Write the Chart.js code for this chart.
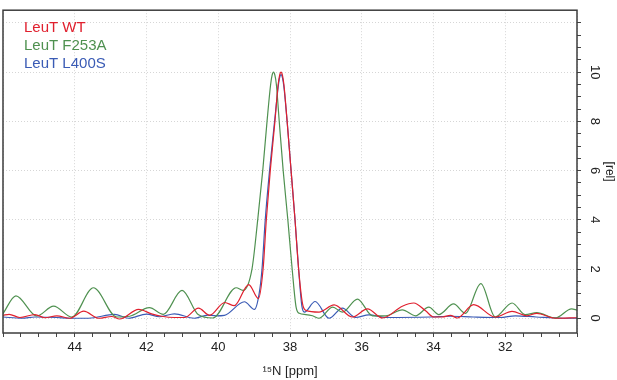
<!DOCTYPE html>
<html lang="en">
<head>
<meta charset="UTF-8">
<title>LeuT 15N spectra</title>
<style>
    body { margin: 0; background: #fff; }
    #wrap { width: 617px; height: 380px; }
</style>
<script src="https://cdn.jsdelivr.net/npm/chart.js"></script>
</head>
<body>
<div id="wrap"><canvas id="nmrChart" width="617" height="380"></canvas></div>
<script>
// series: chemical shift (ppm) and relative intensity
const wtPpm = [46.0, 45.83, 45.53, 45.11, 44.83, 44.50, 44.14, 43.75, 43.33, 42.97, 42.75, 42.22, 41.86, 41.58, 41.22, 40.94, 40.55, 40.24, 39.82, 39.55, 39.15, 38.88, 38.75, 38.66, 38.55, 38.42, 38.33, 38.29, 38.25, 38.21, 38.17, 38.08, 37.97, 37.86, 37.76, 37.65, 37.56, 37.19, 36.77, 36.26, 35.84, 35.42, 34.87, 34.55, 34.22, 33.99, 33.75, 33.53, 33.34, 32.88, 32.28, 31.81, 31.40, 31.12, 30.61, 30.0];
const wtRel = [0.12, 0.16, 0.03, 0.15, 0.02, 0.10, 0.0, 0.29, 0.0, 0.07, -0.03, 0.36, 0.18, 0.08, 0.03, 0.03, 0.41, 0.12, 0.64, 0.51, 1.37, 0.8, 2.0, 4.0, 6.0, 8.0, 9.5, 9.87, 10.0, 9.87, 9.5, 8.0, 6.0, 4.0, 2.0, 0.58, 0.32, 0.25, 0.54, 0.05, 0.38, 0.01, 0.49, 0.62, 0.3, 0.05, 0.05, 0.12, 0.01, 0.55, 0.05, 0.28, 0.1, 0.2, 0.0, 0.02];

const f253aPpm = [46.0, 45.64, 45.06, 44.59, 44.08, 43.48, 42.83, 42.47, 41.92, 41.53, 41.01, 40.56, 40.15, 39.50, 39.31, 39.06, 38.90, 38.76, 38.64, 38.54, 38.50, 38.46, 38.42, 38.38, 38.30, 38.19, 38.06, 37.94, 37.83, 37.74, 37.56, 37.37, 37.19, 36.81, 36.54, 36.12, 35.70, 35.33, 34.87, 34.50, 34.13, 33.85, 33.44, 33.11, 32.68, 32.28, 31.81, 31.44, 31.12, 30.61, 30.15, 30.0];
const f253aRel = [0.19, 0.91, 0.09, 0.49, 0.05, 1.24, 0.05, 0.08, 0.43, 0.16, 1.13, 0.15, 0.01, 1.24, 1.13, 2.0, 4.0, 6.0, 8.0, 9.5, 9.87, 10.0, 9.87, 9.5, 8.0, 6.0, 4.0, 2.0, 0.45, 0.2, 0.15, 0.1, 0.0, 0.45, 0.25, 0.78, 0.1, 0.1, 0.34, 0.1, 0.45, 0.15, 0.58, 0.2, 1.41, 0.05, 0.62, 0.15, 0.23, 0.01, 0.38, 0.33];

const l400sPpm = [46.0, 45.47, 45.11, 44.50, 44.14, 43.61, 42.89, 42.50, 42.0, 41.64, 41.22, 40.67, 40.29, 40.06, 39.83, 39.27, 38.99, 38.86, 38.78, 38.69, 38.57, 38.43, 38.33, 38.29, 38.25, 38.21, 38.17, 38.08, 37.97, 37.86, 37.76, 37.67, 37.60, 37.30, 36.91, 36.54, 36.17, 35.80, 35.33, 34.08, 33.53, 32.89, 32.14, 31.72, 31.14, 30.39, 30.0];
const l400sRel = [0.05, 0.0, 0.05, 0.03, 0.0, 0.0, 0.16, 0.0, 0.17, 0.06, 0.18, 0.0, 0.13, 0.1, 0.12, 0.67, 0.36, 1.0, 2.0, 4.0, 6.0, 8.0, 9.4, 9.77, 9.9, 9.77, 9.4, 8.0, 6.0, 4.0, 2.0, 0.5, 0.25, 0.68, 0.0, 0.41, 0.03, 0.14, 0.03, 0.05, 0.08, 0.05, 0.03, 0.1, 0.05, 0.0, 0.0];

const xTickLabels = [44, 42, 40, 38, 36, 34, 32];
const yTickLabels = [0, 2, 4, 6, 8, 10];

function toPoints(ppm, rel) {
    return ppm.map((p, i) => ({ x: p, y: rel[i] }));
}

function halfSteps(scale) {
    scale.ticks = scale.ticks.filter(t => Math.abs(t.value * 2 - Math.round(t.value * 2)) < 1e-6);
}

function majorGrid(ctx) {
    return ctx.tick && Math.abs(ctx.tick.value % 2) < 1e-6 ? '#d6d6d6' : 'rgba(0,0,0,0)';
}

// frame, rotated y labels and the text legend
const overlay = {
    id: 'overlay',
    afterDraw(chart) {
        const { ctx, chartArea: a, scales } = chart;
        ctx.save();
        ctx.strokeStyle = '#3c3c3c';
        ctx.lineWidth = 1.5;
        ctx.strokeRect(a.left, a.top, a.right - a.left, a.bottom - a.top);

        ctx.fillStyle = '#222';
        ctx.font = '13px Arial';
        ctx.textAlign = 'center';
        ctx.textBaseline = 'middle';
        yTickLabels.forEach(v => {
            const y = scales.y.getPixelForValue(v);
            ctx.save();
            ctx.translate(595, y);
            ctx.rotate(Math.PI / 2);
            ctx.fillText(String(v), 0, 0);
            ctx.restore();
        });

        ctx.font = '15px Arial';
        ctx.textAlign = 'left';
        chart.data.datasets.forEach((ds, i) => {
            ctx.fillStyle = ds.borderColor;
            ctx.fillText(ds.label, 24, 28 + i * 18);
        });
        ctx.restore();
    }
};

const lineStyle = {
    borderWidth: 1.2,
    pointRadius: 0,
    cubicInterpolationMode: 'monotone',
    fill: false
};

new Chart(document.getElementById('nmrChart'), {
    type: 'line',
    data: {
        datasets: [
            Object.assign({ label: 'LeuT WT', data: toPoints(wtPpm, wtRel), borderColor: '#e0202e' }, lineStyle),
            Object.assign({ label: 'LeuT F253A', data: toPoints(f253aPpm, f253aRel), borderColor: '#4f9150' }, lineStyle),
            Object.assign({ label: 'LeuT L400S', data: toPoints(l400sPpm, l400sRel), borderColor: '#3a5bb5' }, lineStyle)
        ]
    },
    options: {
        responsive: false,
        animation: false,
        layout: { padding: { left: 1, top: 1, right: 0, bottom: 0 } },
        plugins: {
            legend: { display: false },
            tooltip: { enabled: false }
        },
        scales: {
            x: {
                type: 'linear',
                reverse: true,
                min: 30,
                max: 46,
                afterBuildTicks: halfSteps,
                afterFit: s => { s.height = 47; },
                ticks: {
                    stepSize: 0.5,
                    autoSkip: false,
                    maxRotation: 0,
                    padding: 3,
                    color: '#222',
                    font: { family: 'Arial', size: 13 },
                    callback: v => xTickLabels.includes(v) ? String(v) : ''
                },
                grid: {
                    color: majorGrid,
                    tickColor: '#444',
                    tickLength: 4,
                    tickBorderDash: []
                },
                border: { display: false, dash: [1, 2] },
                title: {
                    display: true,
                    text: '¹⁵N [ppm]',
                    color: '#222',
                    font: { family: 'Arial', size: 13 },
                    padding: { top: 0, bottom: 1 }
                }
            },
            y: {
                type: 'linear',
                position: 'right',
                min: -0.6,
                max: 12.52,
                afterBuildTicks: halfSteps,
                afterFit: s => { s.width = 40; },
                ticks: {
                    stepSize: 0.5,
                    autoSkip: false,
                    callback: () => ''
                },
                grid: {
                    color: majorGrid,
                    tickColor: '#444',
                    tickLength: 4,
                    tickBorderDash: []
                },
                border: { display: false, dash: [1, 2] },
                title: {
                    display: true,
                    text: '[rel]',
                    color: '#222',
                    font: { family: 'Arial', size: 12 },
                    padding: { top: 0, bottom: 0 }
                }
            }
        }
    },
    plugins: [overlay]
});
</script>
</body>
</html>
